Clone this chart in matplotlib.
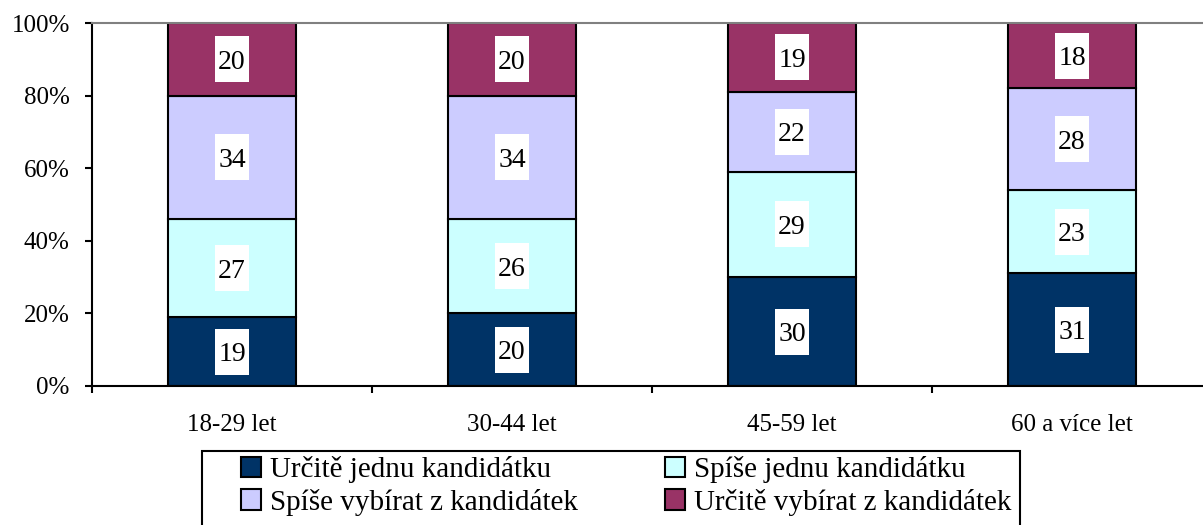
import numpy as np
import matplotlib.pyplot as plt
from matplotlib.patches import Rectangle

# age groups and answer shares (%)
categories = ['18-29 let', '30-44 let', '45-59 let', '60 a více let']
series_names = ['Určitě jednu kandidátku', 'Spíše jednu kandidátku',
                'Spíše vybírat z kandidátek', 'Určitě vybírat z kandidátek']
urcite_jednu = [19, 20, 30, 31]
spise_jednu = [27, 26, 29, 23]
spise_vybirat = [34, 34, 22, 28]
urcite_vybirat = [20, 20, 19, 18]
colors = ['#003366', '#CCFFFF', '#CCCCFF', '#993366']

plt.rcParams['font.family'] = ['Liberation Serif', 'DejaVu Serif']
plt.rcParams['font.size'] = 18

fig = plt.figure(figsize=(12.03, 5.25), dpi=100)
ax = fig.add_axes([92 / 1203, 1 - 386 / 525, 1120 / 1203, 363 / 525])

x = np.arange(len(categories))
bottom = np.zeros(len(categories))
# white label box as a custom marker (width/height ratio ~ 35/47)
box = [(-0.37, -0.5), (0.37, -0.5), (0.37, 0.5), (-0.37, 0.5), (-0.37, -0.5)]
for vals, name, col in zip([urcite_jednu, spise_jednu, spise_vybirat, urcite_vybirat],
                           series_names, colors):
    vals = np.array(vals)
    ax.bar(x, vals, 0.457, bottom=bottom, color=col, edgecolor='black',
           linewidth=1.5, label=name, zorder=2)
    mids = bottom + vals / 2
    ax.plot(x, mids, linestyle='none', marker=box, markersize=47 * 0.72,
            markerfacecolor='white', markeredgewidth=0, zorder=3)
    for xi, yi, v in zip(x, mids, vals):
        ax.text(xi, yi, str(v), ha='center', va='center_baseline', fontsize=20, zorder=4)
    bottom = bottom + vals

ax.set_xlim(-0.5, len(categories) - 0.5)
ax.set_ylim(0, 100)
ax.set_yticks(np.arange(0, 101, 20))
ax.set_yticklabels([f'{v}%' for v in range(0, 101, 20)])
ax.set_xticks(x)
ax.set_xticklabels(categories)
ax.set_xticks(np.arange(-0.5, len(categories), 1), minor=True)
ax.tick_params(axis='x', which='major', length=0, pad=20)
ax.tick_params(axis='x', which='minor', length=5, width=1.5, direction='out')
ax.tick_params(axis='y', length=5, width=1.5, pad=11)

for s in ['left', 'bottom']:
    ax.spines[s].set_linewidth(1.5)
ax.spines['top'].set_color('#808080')
ax.spines['top'].set_linewidth(1.5)
ax.spines['right'].set_visible(False)

# legend, frame drawn separately
handles, labels = ax.get_legend_handles_labels()
order = [0, 2, 1, 3]
fig.legend([handles[i] for i in order], [labels[i] for i in order], ncol=2,
           loc='upper left', bbox_to_anchor=(241 / 1203, 1 - 456 / 525),
           frameon=False, fontsize=21, handlelength=0.7, handleheight=0.7,
           handletextpad=0.28, columnspacing=3.0, labelspacing=0.2,
           borderpad=0, borderaxespad=0)
fig.patches.append(Rectangle((202 / 1203, -0.05), 818 / 1203, 0.05 + 74 / 525,
                             transform=fig.transFigure, fill=False,
                             edgecolor='black', linewidth=1.5))

fig.savefig('out.png', dpi=100)
